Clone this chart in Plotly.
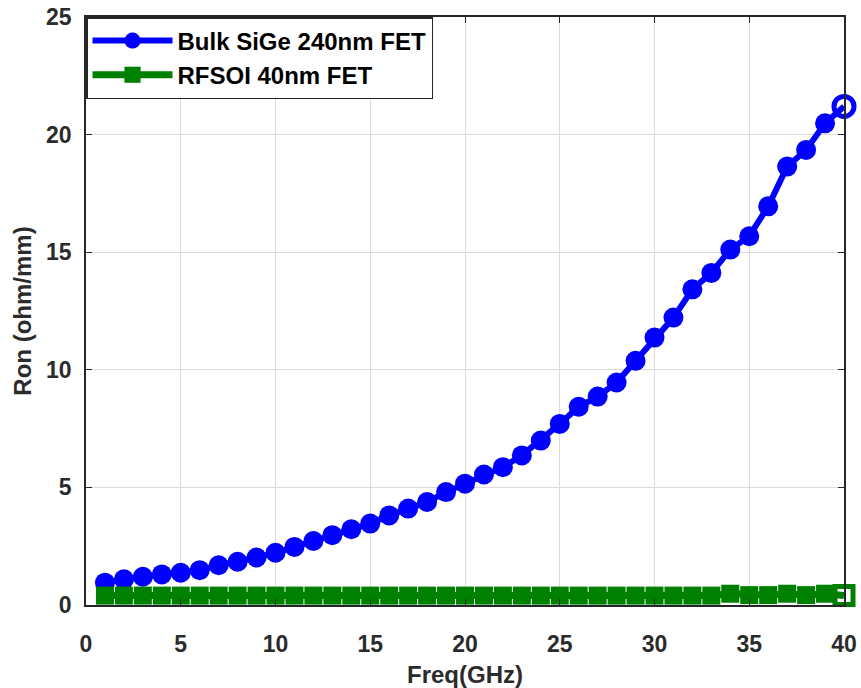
import plotly.graph_objects as go

freq = list(range(1, 41))
bulk_sige = [0.95, 1.09, 1.20, 1.30, 1.37, 1.48, 1.69, 1.84, 2.02, 2.22,
             2.47, 2.72, 2.97, 3.22, 3.46, 3.81, 4.10, 4.38, 4.80, 5.16,
             5.55, 5.86, 6.36, 6.99, 7.70, 8.43, 8.86, 9.46, 10.38, 11.37,
             12.22, 13.42, 14.12, 15.11, 15.68, 16.95, 18.64, 19.35, 20.48, 21.2]
rfsoi = [0.40] * 33 + [0.48, 0.42, 0.42, 0.48, 0.42, 0.48, 0.40]

x_ticks = [0, 5, 10, 15, 20, 25, 30, 35, 40]
y_ticks = [0, 5, 10, 15, 20, 25]

font_family = "Liberation Sans, Arial, sans-serif"
txt = "#2b2b2b"

fig = go.Figure()
fig.add_trace(go.Scatter(
    x=freq, y=bulk_sige, name="<b>Bulk SiGe 240nm FET</b>",
    mode="lines+markers", cliponaxis=False,
    line=dict(color="#0000FF", width=6),
    marker=dict(symbol=["circle"] * 39 + ["circle-open"], size=20, color="#0000FF",
                line=dict(color="#0000FF", width=[0] * 39 + [5])),
))
fig.add_trace(go.Scatter(
    x=freq, y=rfsoi, name="<b>RFSOI 40nm FET</b>",
    mode="lines+markers", cliponaxis=False,
    line=dict(color="#008000", width=7),
    marker=dict(symbol=["square"] * 39 + ["square-open"], size=18, color="#008000",
                line=dict(color="#008000", width=[0] * 39 + [5])),
))

axis_common = dict(
    showline=True, linecolor="#262626", linewidth=1.5, mirror="ticks",
    ticks="inside", ticklen=6, tickcolor="#262626",
    showgrid=True, gridcolor="#DCDCDC", gridwidth=1, zeroline=False,
    automargin=False,
    tickfont=dict(family=font_family, size=23, color=txt, weight="bold"),
)

fig.update_layout(
    width=861, height=688,
    margin=dict(l=86, r=17, t=17, b=83),
    paper_bgcolor="white", plot_bgcolor="white",
    font=dict(family=font_family, color=txt),
    xaxis=dict(range=[0, 40], tickvals=x_ticks, ticklabelstandoff=18,
               title=dict(text="<b>Freq(GHz)</b>", font=dict(size=24, color=txt), standoff=12),
               **axis_common),
    yaxis=dict(range=[0, 25], tickvals=y_ticks, ticklabelstandoff=8,
               title=dict(text="<b>Ron (ohm/mm)</b>", font=dict(size=24, color=txt), standoff=8),
               **axis_common),
    legend=dict(x=0, y=1, xanchor="left", yanchor="top",
                bgcolor="white", bordercolor="#262626", borderwidth=1.5,
                font=dict(family=font_family, size=24, color="black"),
                itemwidth=80, tracegroupgap=0),
    showlegend=True,
)

fig.write_html("out.html")
